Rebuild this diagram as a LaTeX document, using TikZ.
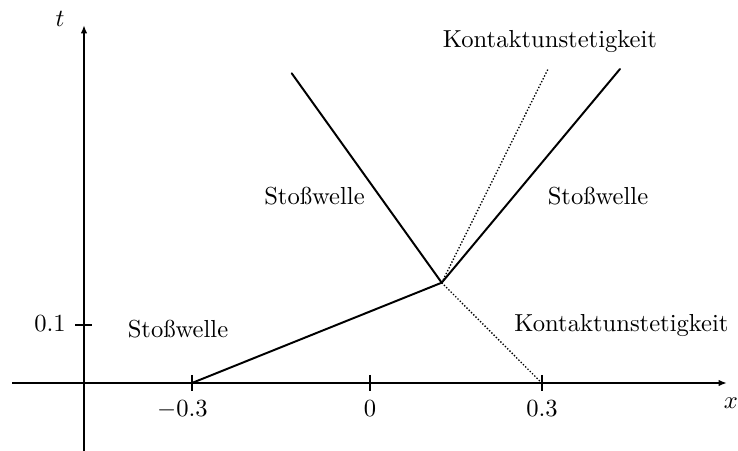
\documentclass[tikz,border=0pt]{standalone}
\usetikzlibrary{arrows.meta}
\begin{document}
\begin{tikzpicture}[x=0.4065pt,y=-0.4065pt,
  axis/.style={line width=0.8pt,-{Latex[length=3.4pt,width=2.6pt]}},
  tick/.style={line width=0.8pt},
  shock/.style={line width=0.8pt,line cap=round},
  contact/.style={line width=0.55pt,dash pattern=on 0.55pt off 0.75pt},
  lbl/.style={anchor=base,inner sep=0pt}]
\useasboundingbox (0,0) rectangle (738,451);
% coordinates
\coordinate (xs) at (12,383);
\coordinate (xe) at (727,383);
\coordinate (ts) at (84,451);
\coordinate (te) at (84,25);
\coordinate (A) at (192,383);
\coordinate (P) at (441.7,282.7);
\coordinate (L) at (291.7,73.3);
\coordinate (R) at (620,69);
\coordinate (C1) at (548,69);
\coordinate (C2) at (541.7,383);
% axes
\draw[axis] (xs) -- (xe);
\draw[axis] (ts) -- (te);
% ticks
\coordinate (k1a) at (192,375); \coordinate (k1b) at (192,391);
\coordinate (k2a) at (370,375); \coordinate (k2b) at (370,391);
\coordinate (k3a) at (541.7,375); \coordinate (k3b) at (541.7,391);
\coordinate (k4a) at (75,325); \coordinate (k4b) at (92,325);
\draw[tick] (k1a) -- (k1b);
\draw[tick] (k2a) -- (k2b);
\draw[tick] (k3a) -- (k3b);
\draw[tick] (k4a) -- (k4b);
% waves
\draw[shock] (A) -- (P);
\draw[shock] (P) -- (L);
\draw[shock] (P) -- (R);
\draw[contact] (P) -- (C1);
\draw[contact] (P) -- (C2);
% labels
\node[lbl] (tl) at (60,27) {$t$};
\node[lbl] (xl) at (731,409) {$x$};
\node[lbl] (m3) at (182.5,417) {$-0.3$};
\node[lbl] (z0) at (370,417) {$0$};
\node[lbl] (p3) at (542,417) {$0.3$};
\node[lbl] (p1) at (50,332) {$0.1$};
\node[lbl] (s1) at (178,338) {Stoßwelle};
\node[lbl] (s2) at (314.5,205) {Stoßwelle};
\node[lbl] (s3) at (598,205) {Stoßwelle};
\node[lbl] (k1) at (550,48) {Kontaktunstetigkeit};
\node[lbl] (k2) at (621.5,332) {Kontaktunstetigkeit};
\end{tikzpicture}
\end{document}
